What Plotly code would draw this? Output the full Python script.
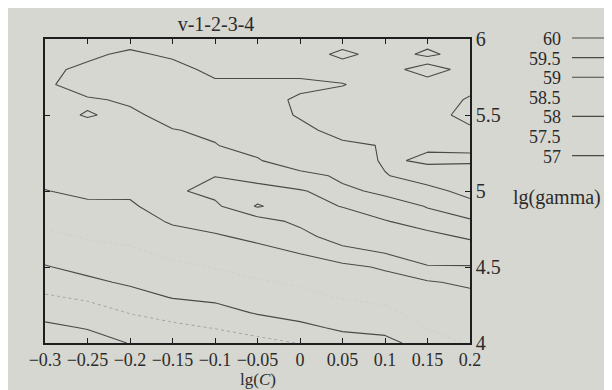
import plotly.graph_objects as go

# ---------------- data ----------------
lg_C = [-0.3, -0.25, -0.2, -0.15, -0.1, -0.05, 0.0, 0.05, 0.1, 0.15, 0.2]
lg_gamma = [4.0, 4.1, 4.2, 4.3, 4.4, 4.5, 4.6, 4.7, 4.8, 4.9, 5.0,
            5.1, 5.2, 5.3, 5.4, 5.5, 5.6, 5.7, 5.8, 5.9, 6.0]
# accuracy[row = lg_gamma index][col = lg_C index]
accuracy = [
    [56.61, 56.76, 57.02, 57.20, 57.20, 57.35, 57.52, 57.70, 57.80, 58.30, 58.55],  # 4.0
    [56.89, 57.03, 57.27, 57.38, 57.52, 57.70, 57.85, 58.10, 58.20, 58.52, 58.65],  # 4.1
    [57.17, 57.29, 57.52, 57.70, 57.82, 58.04, 58.22, 58.30, 58.40, 58.70, 58.75],  # 4.2
    [57.44, 57.57, 57.81, 58.02, 58.10, 58.25, 58.40, 58.52, 58.60, 58.82, 58.85],  # 4.3
    [57.71, 57.90, 58.07, 58.20, 58.30, 58.45, 58.55, 58.70, 58.85, 58.95, 59.10],  # 4.4
    [57.97, 58.14, 58.25, 58.40, 58.52, 58.68, 58.80, 58.90, 59.05, 59.45, 59.48],  # 4.5
    [58.19, 58.34, 58.43, 58.61, 58.73, 58.87, 59.03, 59.30, 59.55, 59.90, 59.70],  # 4.6
    [58.40, 58.54, 58.61, 58.84, 58.95, 59.10, 59.30, 59.80, 59.70, 59.60, 59.45],  # 4.7
    [58.60, 58.74, 58.79, 59.05, 59.18, 59.26, 59.63, 59.75, 59.52, 59.35, 59.48],  # 4.8
    [58.80, 58.94, 58.96, 59.15, 59.40, 60.05, 59.70, 59.48, 59.30, 59.52, 59.60],  # 4.9
    [58.99, 59.07, 59.05, 59.42, 59.65, 59.70, 59.52, 59.40, 59.60, 59.60, 59.40],  # 5.0
    [59.10, 59.17, 59.12, 59.35, 59.49, 59.30, 59.30, 59.60, 59.52, 59.35, 59.30],  # 5.1
    [59.20, 59.25, 59.20, 59.30, 59.40, 59.45, 59.90, 59.75, 59.45, 59.55, 59.55],  # 5.2
    [59.30, 59.30, 59.27, 59.35, 59.48, 59.70, 59.80, 59.60, 59.47, 59.46, 59.45],  # 5.3
    [59.33, 59.35, 59.33, 59.48, 59.58, 59.80, 59.65, 59.30, 59.35, 59.30, 59.40],  # 5.4
    [59.36, 59.53, 59.40, 59.68, 59.75, 59.80, 59.44, 59.25, 59.30, 59.25, 59.70],  # 5.5
    [59.40, 59.43, 59.58, 59.80, 59.70, 59.75, 59.40, 59.30, 59.30, 59.25, 59.55],  # 5.6
    [59.40, 59.80, 59.80, 59.80, 59.60, 59.60, 59.65, 59.52, 59.30, 59.15, 59.35],  # 5.7
    [59.40, 59.60, 59.80, 59.70, 59.35, 59.35, 59.28, 59.30, 59.20, 59.85, 59.20],  # 5.8
    [59.38, 59.40, 59.60, 59.40, 59.30, 59.30, 59.30, 59.59, 59.35, 58.85, 59.35],  # 5.9
    [59.30, 59.30, 59.27, 59.30, 59.30, 59.30, 59.30, 59.30, 59.30, 59.30, 59.30],  # 6.0
]
contour_levels = [60, 59.5, 59, 58.5, 58, 57.5, 57]
level_labels = ["60", "59.5", "59", "58.5", "58", "57.5", "57"]

x_tickvals = [-0.3, -0.25, -0.2, -0.15, -0.1, -0.05, 0.0, 0.05, 0.1, 0.15, 0.2]
x_ticktext = ["\u22120.3", "\u22120.25", "\u22120.2", "\u22120.15", "\u22120.1",
              "\u22120.05", "0", "0.05", "0.1", "0.15", "0.2"]
y_tickvals = [4, 4.5, 5, 5.5, 6]
y_ticktext = ["4", "4.5", "5", "5.5", "6"]

title_text = "v-1-2-3-4"
x_title = "lg(<i>C</i>)"
y_title = "lg(gamma)"

# ---------------- styling / layout ----------------
OFF = 8                       # page body margin of the browser
W, H = 612 - OFF, 390 - OFF
PL, PR, PT, PB = 45, 470, 39, 343          # plot area in window pixels
BG = "#d7d7d1"
INK = "#2b2b2b"
LINE = "#4a4a4a"
FONT = "Liberation Serif"
FS = 20

faint_style = {58.5: dict(color="#d0d0ca", width=1, dash="dot"),
               57.5: dict(color="#a4a49e", width=1, dash="dot")}
solid_style = dict(color=LINE, width=1.1)

def px_x(px):
    return (px - PL) / (PR - PL)

def px_y(py):
    return (PB - py) / (PB - PT)

fig = go.Figure()
for lvl in contour_levels:
    st = faint_style.get(lvl, solid_style)
    fig.add_trace(go.Contour(
        x=lg_C, y=lg_gamma, z=accuracy,
        autocontour=False,
        contours=dict(start=lvl, end=lvl + 0.01, size=1, coloring="none"),
        line=dict(color=st["color"], width=st["width"],
                  dash=st.get("dash", "solid"), smoothing=0),
        showscale=False, hoverinfo="skip", name=str(lvl)))

# key on the right (text right-aligned, sample line after it)
key_text_right = 563
key_line_x0, key_line_x1 = 572, 616
key_top, key_step = 39, 19.6
annotations = []
shapes = []
for i, (lvl, lab) in enumerate(zip(contour_levels, level_labels)):
    py = key_top + i * key_step
    annotations.append(dict(x=px_x(key_text_right), y=px_y(py), xref="paper", yref="paper",
                            text=lab, showarrow=False, xanchor="right", yanchor="middle",
                            font=dict(family=FONT, size=18, color=INK)))
    if lvl not in faint_style:
        shapes.append(dict(type="line", xref="paper", yref="paper",
                           x0=px_x(key_line_x0), x1=px_x(key_line_x1),
                           y0=px_y(py - 1), y1=px_y(py - 1),
                           line=dict(color=LINE, width=1.1)))

annotations.append(dict(x=px_x(511), y=px_y(197), xref="paper", yref="paper",
                        text=y_title, showarrow=False, xanchor="left", yanchor="middle",
                        font=dict(family=FONT, size=FS, color=INK)))
annotations.append(dict(x=0.5, y=px_y(379), xref="paper", yref="paper",
                        text=x_title, showarrow=False, xanchor="center", yanchor="middle",
                        font=dict(family=FONT, size=17, color=INK)))

axis_common = dict(showgrid=False, zeroline=False, showline=True, linecolor="#1e1e1e",
                   linewidth=1.5, mirror="ticks", ticks="inside", ticklen=5,
                   tickcolor="#1e1e1e", tickwidth=1.2, automargin=False)

fig.update_layout(
    template="none",
    width=W, height=H,
    margin=dict(l=PL - OFF, r=W - (PR - OFF), t=PT - OFF, b=H - (PB - OFF), pad=0),
    paper_bgcolor=BG, plot_bgcolor=BG,
    showlegend=False,
    title=dict(text=title_text, x=(216 - OFF) / W, xanchor="center", xref="container",
               y=1 - (24 - OFF) / H, yanchor="middle", yref="container",
               font=dict(family=FONT, size=FS, color=INK)),
    xaxis=dict(range=[lg_C[0], lg_C[-1]], tickmode="array", tickvals=x_tickvals,
               ticktext=x_ticktext, tickangle=0,
               tickfont=dict(family=FONT, size=18, color=INK), **axis_common),
    yaxis=dict(range=[lg_gamma[0], lg_gamma[-1]], side="right", tickmode="array",
               tickvals=y_tickvals, ticktext=y_ticktext,
               tickfont=dict(family=FONT, size=FS, color=INK), **axis_common),
    annotations=annotations,
    shapes=shapes,
)

fig.write_html("out.html")
